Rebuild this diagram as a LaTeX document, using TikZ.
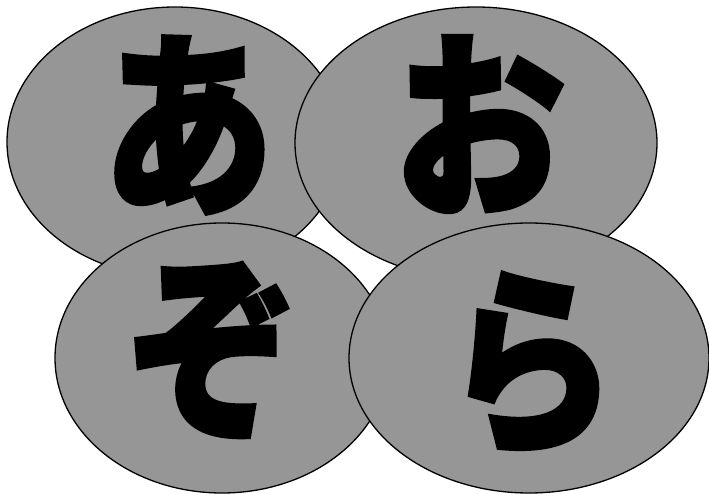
\documentclass[tikz,border=0pt]{standalone}
\usepackage{fontspec}
\newfontfamily\cjk{Noto Sans CJK JP}[BoldFeatures={FakeBold=2}]
\definecolor{disc}{RGB}{150,150,150}
\usetikzlibrary{shapes.geometric}

\begin{document}
\begin{tikzpicture}[x=1pt,y=-1pt,
    kana/.style={font=\cjk\bfseries\fontsize{200}{200}\selectfont,inner sep=0pt,xscale=0.86}]
        \useasboundingbox (0,0) rectangle (709,494);
        \foreach \n/\cx/\cy/\rx/\ry/\tx/\ty/\t in {a/175/142/168/135/188/125/あ,o/476/143/181/136/480/124/お,zo/222/358/167/135/213/351/ぞ,ra/529/358/180/135/531/364/ら}
        {
            \draw[fill=disc,line width=1.3pt] (\cx,\cy) ellipse [x radius=\rx,y radius=\ry];
            \node[kana] (k\n) at (\tx,\ty) {\t};
        }
    \end{tikzpicture}
\end{document}
